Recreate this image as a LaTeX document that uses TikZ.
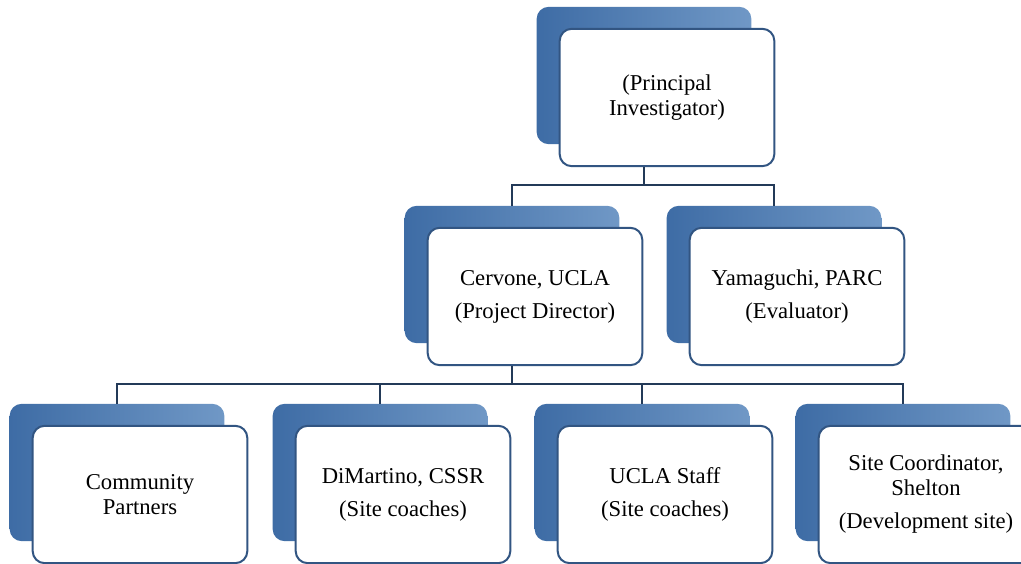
\documentclass[tikz,border=0pt]{standalone}
\usepackage{fontspec}
\setmainfont{Liberation Serif}
\usetikzlibrary{positioning}

\definecolor{boxline}{RGB}{50,85,130}
\definecolor{backdark}{RGB}{62,108,165}
\definecolor{backlight}{RGB}{112,152,198}
\definecolor{linkcol}{RGB}{35,58,88}

\tikzset{
    backbox/.style={rounded corners=9pt, minimum width=161pt, minimum height=103pt,
        left color=backdark, right color=backlight, draw=none},
    frontbox/.style={rounded corners=9pt, minimum width=161pt, minimum height=103pt,
        fill=white, draw=boxline, line width=1.5pt, align=center,
        font=\fontsize{17}{18.75}\selectfont},
    link/.style={draw=linkcol, line width=1.5pt}
}

\begin{document}
\begin{tikzpicture}[x=0.75pt, y=0.75pt]
            \useasboundingbox (0, 0) rectangle (1021, 564);
            % boxes: back card and front card
            \foreach \nm/\px/\py/\txt in {
                    pi/644/488.5/{(Principal\\Investigator)},
                    cervone/512/289.5/{Cervone, UCLA\\[6pt](Project Director)},
                    yamaguchi/774/289.5/{Yamaguchi, PARC\\[6pt](Evaluator)},
                    partners/117/91.5/{Community\\Partners},
                    dimartino/380/91.5/{DiMartino, CSSR\\[6pt](Site coaches)},
                    uclastaff/642/91.5/{UCLA Staff\\[6pt](Site coaches)},
                    shelton/903/91.5/{Site Coordinator,\\Shelton\\[6pt](Development site)}}{
                \node[backbox] (\nm) at (\px, \py) {};
                \node[frontbox] (\nm-front) at (\px+23, \py-22) {\txt};
            }
            \coordinate (topbus) at (0, 379);
            \coordinate (lowbus) at (0, 180);
            \foreach \kid in {cervone, yamaguchi}
                \draw[link] (pi-front.south -| pi) |- (topbus -| \kid) -- (\kid.north);
            \foreach \kid in {partners, dimartino, uclastaff, shelton}
                \draw[link] (cervone-front.south -| cervone) |- (lowbus -| \kid) -- (\kid.north);
        \end{tikzpicture}
\end{document}
